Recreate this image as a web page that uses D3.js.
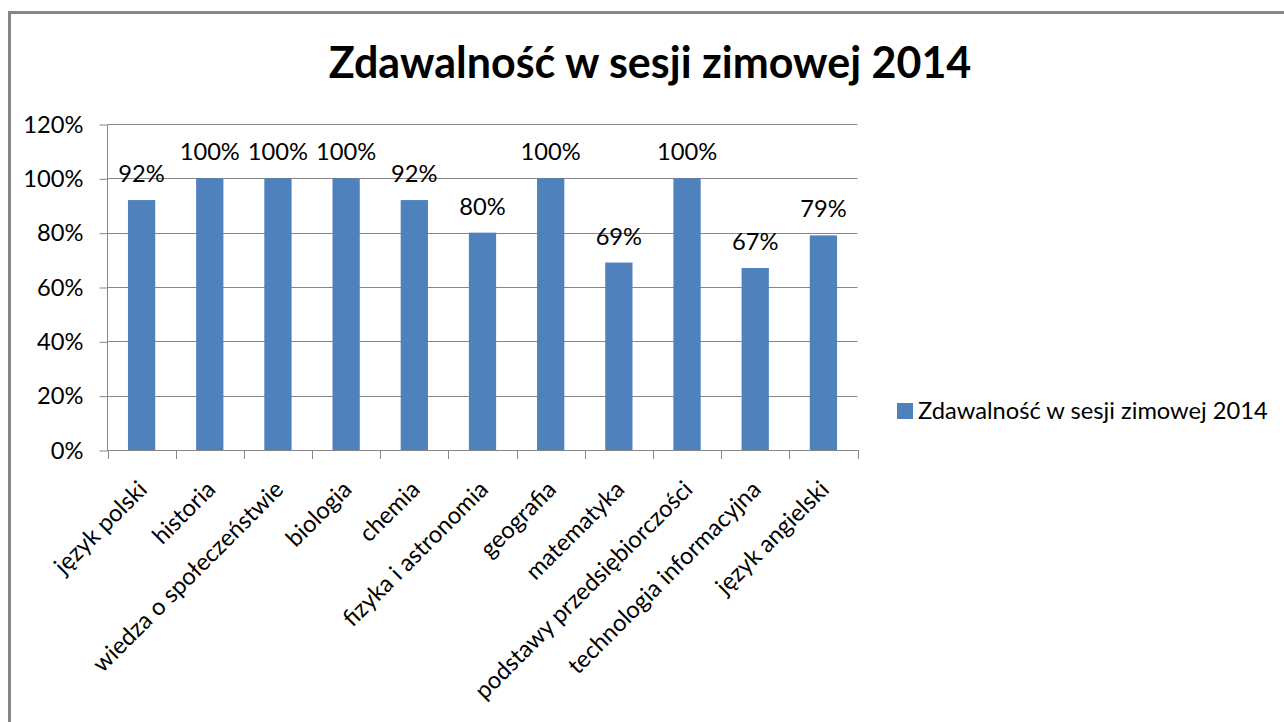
<!DOCTYPE html>
<html>
<head>
<meta charset="utf-8">
<script src="https://cdn.jsdelivr.net/npm/d3@7"></script>
<style>
  body { margin: 0; background: #fff; }
  svg { display: block; }
  text { font-family: Lato, "Open Sans", sans-serif; fill: #000; }
</style>
</head>
<body>
<svg id="chart" width="1284" height="722"></svg>
<script>
const title = "Zdawalność w sesji zimowej 2014";
const seriesName = "Zdawalność w sesji zimowej 2014";
const categories = ["język polski", "historia", "wiedza o społeczeństwie", "biologia", "chemia",
  "fizyka i astronomia", "geografia", "matematyka", "podstawy przedsiębiorczości",
  "technologia informacyjna", "język angielski"];
const values = [0.92, 1.00, 1.00, 1.00, 0.92, 0.80, 1.00, 0.69, 1.00, 0.67, 0.79];
const yTicks = [0, 0.2, 0.4, 0.6, 0.8, 1.0, 1.2];

const svg = d3.select("#chart");
const gray = "#868686";
const barColor = "#4F81BD";
const fs = 23.7;

// frame
svg.append("line").attr("x1", 9.5).attr("x2", 1284).attr("y1", 12.5).attr("y2", 12.5)
  .attr("stroke", gray).attr("stroke-width", 3);
svg.append("line").attr("x1", 9.5).attr("x2", 9.5).attr("y1", 11).attr("y2", 722)
  .attr("stroke", gray).attr("stroke-width", 3);

// title
svg.append("text").attr("x", 650).attr("y", 78).attr("text-anchor", "middle")
  .style("font-weight", "bold").style("font-size", "43px").text(title);

const x = d3.scaleBand().domain(categories).range([107.5, 857.5]).paddingInner(0.6).paddingOuter(0.3);
const y = d3.scaleLinear().domain([0, 1.2]).range([450, 124]);

// gridlines
svg.append("g").selectAll("line").data(yTicks).join("line")
  .attr("x1", 107.5).attr("x2", 857.5)
  .attr("y1", d => Math.round(y(d)) + 0.5).attr("y2", d => Math.round(y(d)) + 0.5)
  .attr("stroke", gray).attr("stroke-width", 1);

// y axis
const yAxis = svg.append("g").attr("transform", "translate(107.5,0.5)")
  .call(d3.axisLeft(y).tickValues(yTicks).tickFormat(d3.format(".0%")).tickSize(8).tickPadding(16));
yAxis.select(".domain").attr("stroke", gray).attr("d", `M0,${y(1.2)}V${y(0)}`);
yAxis.selectAll(".tick line").attr("stroke", gray);
yAxis.selectAll(".tick text").style("font-size", fs + "px").style("font-family", "Lato").attr("fill", "#000");

// bars
svg.append("g").selectAll("rect").data(values).join("rect")
  .attr("x", (d, i) => x(categories[i]))
  .attr("width", x.bandwidth())
  .attr("y", d => y(d))
  .attr("height", d => y(0) - y(d))
  .attr("fill", barColor);

// x axis line and ticks
const step = x.step();
const x0 = x.range()[0];
svg.append("line").attr("x1", x0).attr("x2", x.range()[1]).attr("y1", 450.5).attr("y2", 450.5)
  .attr("stroke", gray);
svg.append("g").selectAll("line").data(d3.range(categories.length + 1)).join("line")
  .attr("x1", i => Math.round(x0 + i * step) + 0.5).attr("x2", i => Math.round(x0 + i * step) + 0.5)
  .attr("y1", 450).attr("y2", 459).attr("stroke", gray);

// data labels
svg.append("g").selectAll("text").data(values).join("text")
  .attr("x", (d, i) => x(categories[i]) + x.bandwidth() / 2)
  .attr("y", d => y(d) - 18)
  .attr("text-anchor", "middle")
  .style("font-size", fs + "px")
  .text(d => d3.format(".0%")(d));

// category labels
svg.append("g").selectAll("text").data(categories).join("text")
  .attr("transform", d => `translate(${x(d) + x.bandwidth() / 2 + 7},${491}) rotate(-45)`)
  .attr("text-anchor", "end")
  .style("font-size", fs + "px")
  .text(d => d);

// legend
svg.append("rect").attr("x", 897).attr("y", 403).attr("width", 16).attr("height", 16).attr("fill", barColor);
svg.append("text").attr("x", 918).attr("y", 419).style("font-size", fs + "px").text(seriesName);
</script>
</body>
</html>
